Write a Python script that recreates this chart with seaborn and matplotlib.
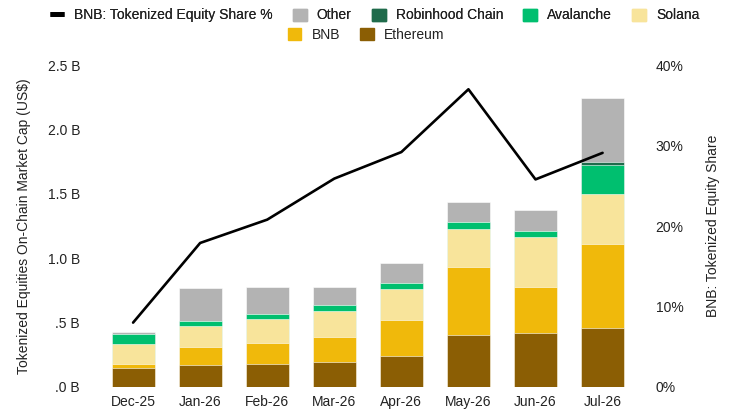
import numpy as np
import pandas as pd
import matplotlib
matplotlib.use("Agg")
import matplotlib.pyplot as plt
from matplotlib.lines import Line2D
from matplotlib.patches import Patch
from matplotlib.ticker import FuncFormatter
import seaborn as sns

# values (US$ billions and %)
months = ['Dec-25', 'Jan-26', 'Feb-26', 'Mar-26', 'Apr-26', 'May-26', 'Jun-26', 'Jul-26']
ethereum = [0.146, 0.174, 0.181, 0.192, 0.244, 0.400, 0.420, 0.460]
bnb = [0.036, 0.140, 0.161, 0.197, 0.280, 0.535, 0.355, 0.650]
solana = [0.151, 0.156, 0.185, 0.200, 0.241, 0.296, 0.390, 0.390]
avalanche = [0.075, 0.039, 0.041, 0.049, 0.039, 0.047, 0.047, 0.223]
robinhood = [0.0, 0.0, 0.0, 0.0, 0.0, 0.0, 0.0, 0.021]
other = [0.021, 0.260, 0.210, 0.140, 0.156, 0.160, 0.166, 0.500]
bnb_share = [8.0, 17.9, 20.8, 25.9, 29.2, 37.0, 25.8, 29.1]

series = ['Ethereum', 'BNB', 'Solana', 'Avalanche', 'Robinhood Chain', 'Other']
colors = {
    'Ethereum': '#8b5e04',
    'BNB': '#f0b90b',
    'Solana': '#f8e49b',
    'Avalanche': '#00bf6f',
    'Robinhood Chain': '#1f6b4b',
    'Other': '#b3b3b3',
}

df = pd.DataFrame({'Month': months, 'Ethereum': ethereum, 'BNB': bnb, 'Solana': solana,
                   'Avalanche': avalanche, 'Robinhood Chain': robinhood, 'Other': other})
cum = df[series].cumsum(axis=1)
cum['Month'] = months

sns.set_theme(style="white")
plt.rcParams['font.family'] = ['Liberation Sans', 'DejaVu Sans']
text_color = '#222222'

fig = plt.figure(figsize=(7.32, 4.15), dpi=100)
ax = fig.add_axes([0.136, 0.0675, 0.733, 0.7755])

# stacked bars: draw cumulative totals from the top layer down
for name in reversed(series):
    sns.barplot(data=cum, x='Month', y=name, color=colors[name], saturation=1,
                width=0.64, errorbar=None, edgecolor='white', linewidth=0.4, ax=ax)

ax.set_ylim(0, 2.5)
ax.set_yticks([0, 0.5, 1.0, 1.5, 2.0, 2.5])
ax.yaxis.set_major_formatter(FuncFormatter(lambda v, p: f"{v:.1f} B".lstrip('0') if v < 1 else f"{v:.1f} B"))
ax.set_xlim(-0.5, 7.5)
ax.set_xlabel('')
ax.set_ylabel('Tokenized Equities On-Chain Market Cap (US$)', fontsize=10, color=text_color, labelpad=12)
ax.tick_params(axis='y', length=0, pad=14, labelsize=10, labelcolor=text_color)
ax.tick_params(axis='x', length=0, pad=6, labelsize=10, labelcolor=text_color)
sns.despine(ax=ax, left=True, bottom=True)

# BNB share line on the right axis
ax2 = ax.twinx()
sns.lineplot(x=np.arange(len(months)), y=bnb_share, color='black', linewidth=1.9, ax=ax2)
ax2.set_ylim(0, 40)
ax2.set_yticks([0, 10, 20, 30, 40])
ax2.yaxis.set_major_formatter(FuncFormatter(lambda v, p: f"{v:.0f}%"))
ax2.set_ylabel('BNB: Tokenized Equity Share', fontsize=10, color=text_color, labelpad=16)
ax2.tick_params(axis='y', length=0, pad=14, labelsize=10, labelcolor=text_color)
ax2.grid(False)
ax.grid(False)
for s in ax2.spines.values():
    s.set_visible(False)

# legend in two centred rows
leg_kw = dict(frameon=False, fontsize=10, handlelength=1.0, handleheight=1.0,
              handletextpad=0.72, columnspacing=1.45, borderaxespad=0, borderpad=0,
              labelcolor=text_color)
row1 = [Line2D([0], [0], color='black', linewidth=3.5, solid_capstyle='butt'),
        Patch(color=colors['Other']), Patch(color=colors['Robinhood Chain']),
        Patch(color=colors['Avalanche']), Patch(color=colors['Solana'])]
labels1 = ['BNB: Tokenized Equity Share %', 'Other', 'Robinhood Chain', 'Avalanche', 'Solana']
leg1 = fig.legend(row1, labels1, ncol=5, loc='center', bbox_to_anchor=(0.512, 0.9627), **leg_kw)
row2 = [Patch(color=colors['BNB']), Patch(color=colors['Ethereum'])]
fig.legend(row2, ['BNB', 'Ethereum'], ncol=2, loc='center', bbox_to_anchor=(0.5, 0.9157), **leg_kw)
fig.add_artist(leg1)

fig.savefig('out.png', dpi=100)
